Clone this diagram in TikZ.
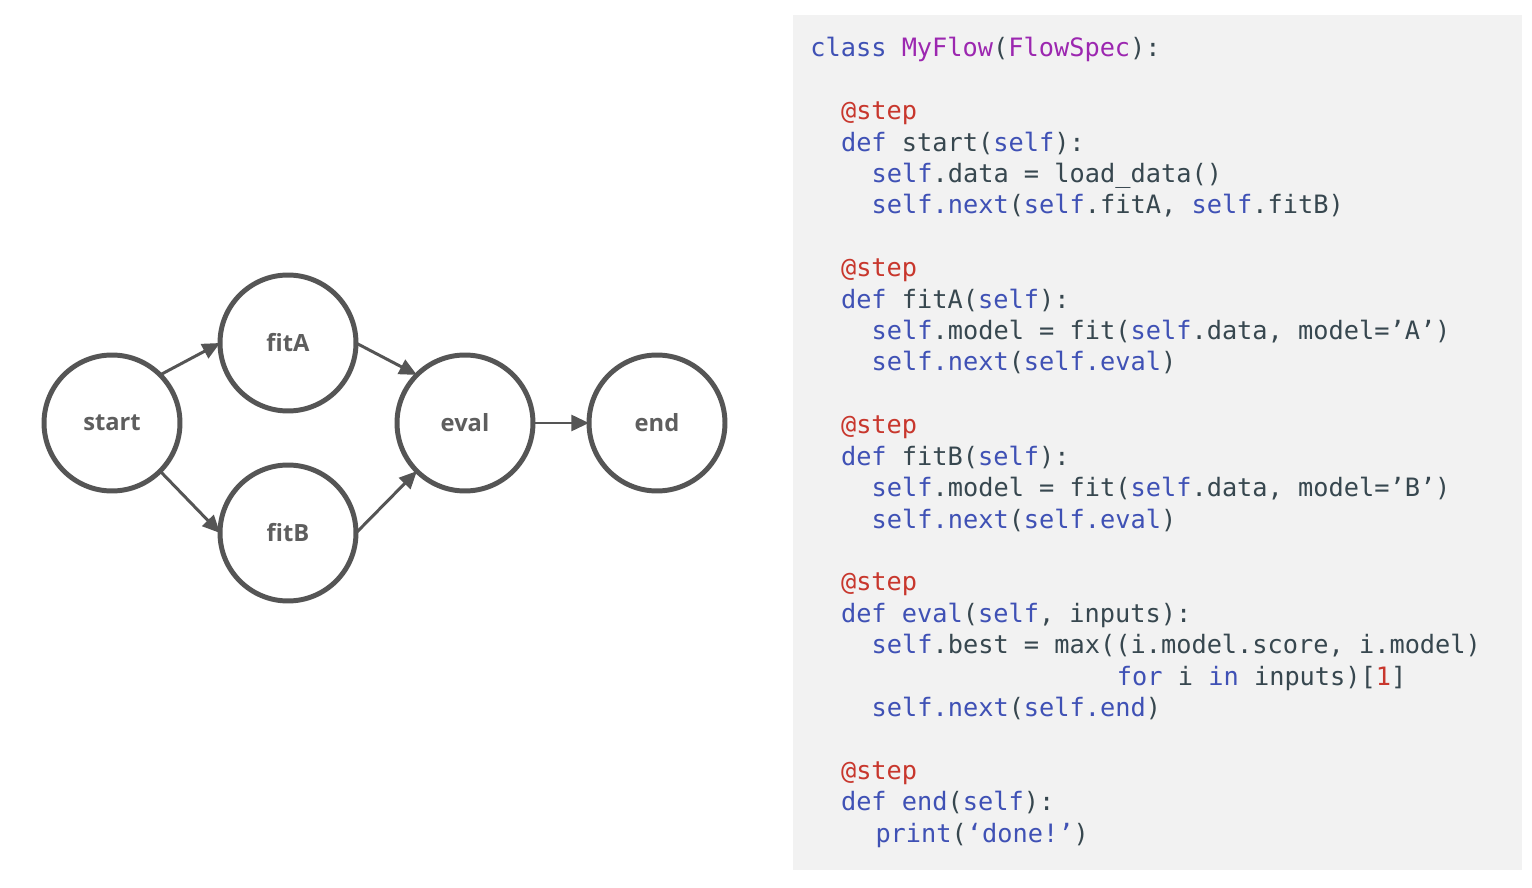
\documentclass[tikz,border=0pt]{standalone}
\usepackage{fontspec}
\usepackage{xcolor}
\usepackage{tikz}
\usetikzlibrary{arrows.meta}

\newfontfamily\codefont{DejaVu Sans Mono}
\newfontfamily\labelfont{Open Sans}

\definecolor{stepgray}{HTML}{555555}
\definecolor{labelgray}{HTML}{5E5E5E}
\definecolor{codebg}{HTML}{F2F2F2}
\definecolor{codetext}{HTML}{37474F}
\definecolor{kwblue}{HTML}{3F51B5}
\definecolor{decored}{HTML}{C8372D}
\definecolor{clspurple}{HTML}{9C27B0}

\newcommand{\kw}[1]{\textcolor{kwblue}{#1}}
\newcommand{\deco}[1]{\textcolor{decored}{#1}}
\newcommand{\cname}[1]{\textcolor{clspurple}{#1}}

\tikzset{
  stepnode/.style={circle,draw=stepgray,line width=2.83pt,minimum size=2.72cm,
    inner sep=0pt,outer sep=0pt,text=labelgray,
    font=\labelfont\bfseries\fontsize{13.5}{16}\selectfont},
  edge/.style={draw=stepgray,line width=1.7pt,-{Triangle[length=10pt,width=9pt]}},
  codeline/.style={anchor=base west,inner sep=0pt,text=codetext,
    font=\codefont\fontsize{14.4}{17.8}\selectfont}
}

\begin{document}
\begin{tikzpicture}[x=0.02cm,y=-0.02cm]
\useasboundingbox (0,0) rectangle (1532,888);
\fill[codebg] (793,15) rectangle (1522,870);

% flow graph
\node[stepnode] (start) at (112,423) {start};
\node[stepnode] (fitA) at (288,343) {fitA};
\node[stepnode] (fitB) at (288,533) {fitB};
\node[stepnode] (eval) at (465,423) {eval};
\node[stepnode] (end) at (657,423) {end};

\draw[edge] (start.north east) -- (fitA.west);
\draw[edge] (start.south east) -- (fitB.west);
\draw[edge] (fitA.east) -- (eval.north west);
\draw[edge] (fitB.east) -- (eval.south west);
\draw[edge] (eval.east) -- (end.west);

% code listing, one node per line
\foreach \n/\ind/\txt in {
  0/0/{\kw{class} \cname{MyFlow}(\cname{FlowSpec}):},
  2/2/{\deco{@step}},
  3/2/{\kw{def} start(\kw{self}):},
  4/4/{\kw{self}.data = load\_data()},
  5/4/{\kw{self.next}(\kw{self}.fitA, \kw{self}.fitB)},
  7/2/{\deco{@step}},
  8/2/{\kw{def} fitA(\kw{self}):},
  9/4/{\kw{self}.model = fit(\kw{self}.data, model=’A’)},
  10/4/{\kw{self.next}(\kw{self.eval})},
  12/2/{\deco{@step}},
  13/2/{\kw{def} fitB(\kw{self}):},
  14/4/{\kw{self}.model = fit(\kw{self}.data, model=’B’)},
  15/4/{\kw{self.next}(\kw{self.eval})},
  17/2/{\deco{@step}},
  18/2/{\kw{def} \kw{eval}(\kw{self}, inputs):},
  19/4/{\kw{self}.best = max((i.model.score, i.model)},
  20/20/{\kw{for} i \kw{in} inputs)[\deco{1}]},
  21/4/{\kw{self.next}(\kw{self.end})},
  23/2/{\deco{@step}},
  24/2/{\kw{def} \kw{end}(\kw{self}):},
  25/4.25/{\kw{print}(\kw{‘done!’})}}
  \node[codeline] (line\n) at (810+\ind*15.33,57+\n*31.4) {\txt};
\end{tikzpicture}
\end{document}
